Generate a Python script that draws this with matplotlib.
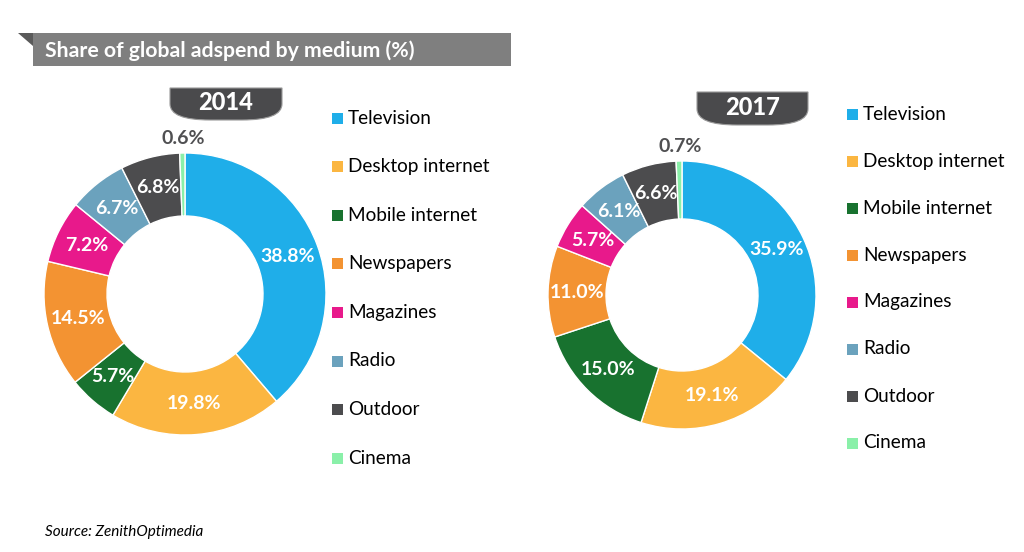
"""Share of global adspend by medium, 2014 vs 2017 (ZenithOptimedia)."""
import math

import matplotlib
matplotlib.use("Agg")
import matplotlib.pyplot as plt
from matplotlib.patches import Rectangle, Polygon, PathPatch
from matplotlib.path import Path

plt.rcParams["font.family"] = ["Lato", "DejaVu Sans"]

# data
media = ["Television", "Desktop internet", "Mobile internet", "Newspapers",
         "Magazines", "Radio", "Outdoor", "Cinema"]
share_2014 = [38.8, 19.8, 5.7, 14.5, 7.2, 6.7, 6.8, 0.6]
share_2017 = [35.9, 19.1, 15.0, 11.0, 5.7, 6.1, 6.6, 0.7]
colors = ["#1FAEE9", "#FBB641", "#18722F", "#F39332",
          "#E8198B", "#6BA2BD", "#4C4C4E", "#8AF0A9"]

W, H = 1024, 552


def Y(py):
    # pixel row -> data y (axes is in pixel units, y up)
    return H - py


def badge(ax, x0, x1, y0, y1, text):
    """Tab shaped label: flat top, rounded bottom corners."""
    r = 20
    top, bot = Y(y0), Y(y1)
    verts = [(x0, top), (x1, top), (x1, bot + r * 0.8),
             (x1, bot), (x1 - r * 2, bot),
             (x0 + r * 2, bot),
             (x0, bot), (x0, bot + r * 0.8), (x0, top)]
    codes = [Path.MOVETO, Path.LINETO, Path.LINETO,
             Path.CURVE3, Path.CURVE3,
             Path.LINETO,
             Path.CURVE3, Path.CURVE3, Path.CLOSEPOLY]
    ax.add_patch(PathPatch(Path(verts, codes), facecolor="#4A4A4C",
                           edgecolor="#9A9A9A", lw=0.8, zorder=3))
    ax.text((x0 + x1) / 2, (top + bot) / 2 + 1, text, color="white",
            fontsize=17, fontweight="black", ha="center", va="center", zorder=4)


def donut(ax, values, cx, cy, r_out, r_in):
    wedges, _ = ax.pie(values, colors=colors, radius=r_out, center=(cx, Y(cy)),
                       startangle=90, counterclock=False,
                       wedgeprops=dict(width=r_out - r_in, edgecolor="white",
                                       linewidth=1))
    r_mid = (r_out + r_in) / 2
    for w, v in zip(wedges, values):
        ang = math.radians((w.theta1 + w.theta2) / 2)
        if v < 2:
            # tiny slice: label sits above the ring
            ax.text(cx - 2, Y(cy) + r_out + 14, f"{v:.1f}%", color="#505052",
                    fontsize=14, fontweight="bold", ha="center", va="center")
        else:
            ax.text(cx + r_mid * math.cos(ang), Y(cy) + r_mid * math.sin(ang),
                    f"{v:.1f}%", color="white", fontsize=14, fontweight="bold",
                    ha="center", va="center")


def legend(ax, x, y_first, step):
    for i, (name, c) in enumerate(zip(media, colors)):
        yy = Y(y_first + i * step)
        ax.add_patch(Rectangle((x, yy - 5.5), 11, 11, facecolor=c, lw=0))
        ax.text(x + 16, yy, name, fontsize=13.7, color="black",
                ha="left", va="center")


fig = plt.figure(figsize=(W / 100, H / 100), dpi=100)
ax = fig.add_axes([0, 0, 1, 1])

donut(ax, share_2014, 185, 294, 141, 78)
donut(ax, share_2017, 682, 295, 134, 76)

ax.set_xlim(0, W)
ax.set_ylim(0, H)
ax.set_aspect("equal")
ax.axis("off")

# title banner
ax.add_patch(Rectangle((33, Y(66)), 478, 33, facecolor="#7F7F7F", lw=0))
ax.add_patch(Polygon([(18, Y(33)), (33, Y(33)), (33, Y(46))],
                     closed=True, facecolor="#5A5A5A", lw=0))
ax.text(45, Y(51), "Share of global adspend by medium (%)", color="white",
        fontsize=15.3, fontweight="bold", ha="left", va="center")

badge(ax, 170, 282, 88, 120, "2014")
badge(ax, 697, 808, 92, 125, "2017")

legend(ax, 332, 118, 48.6)
legend(ax, 847, 114, 47.0)

ax.text(45, Y(532), "Source: ZenithOptimedia", fontsize=11, style="italic",
        color="black", ha="left", va="center")

fig.savefig("out.png", dpi=100)
